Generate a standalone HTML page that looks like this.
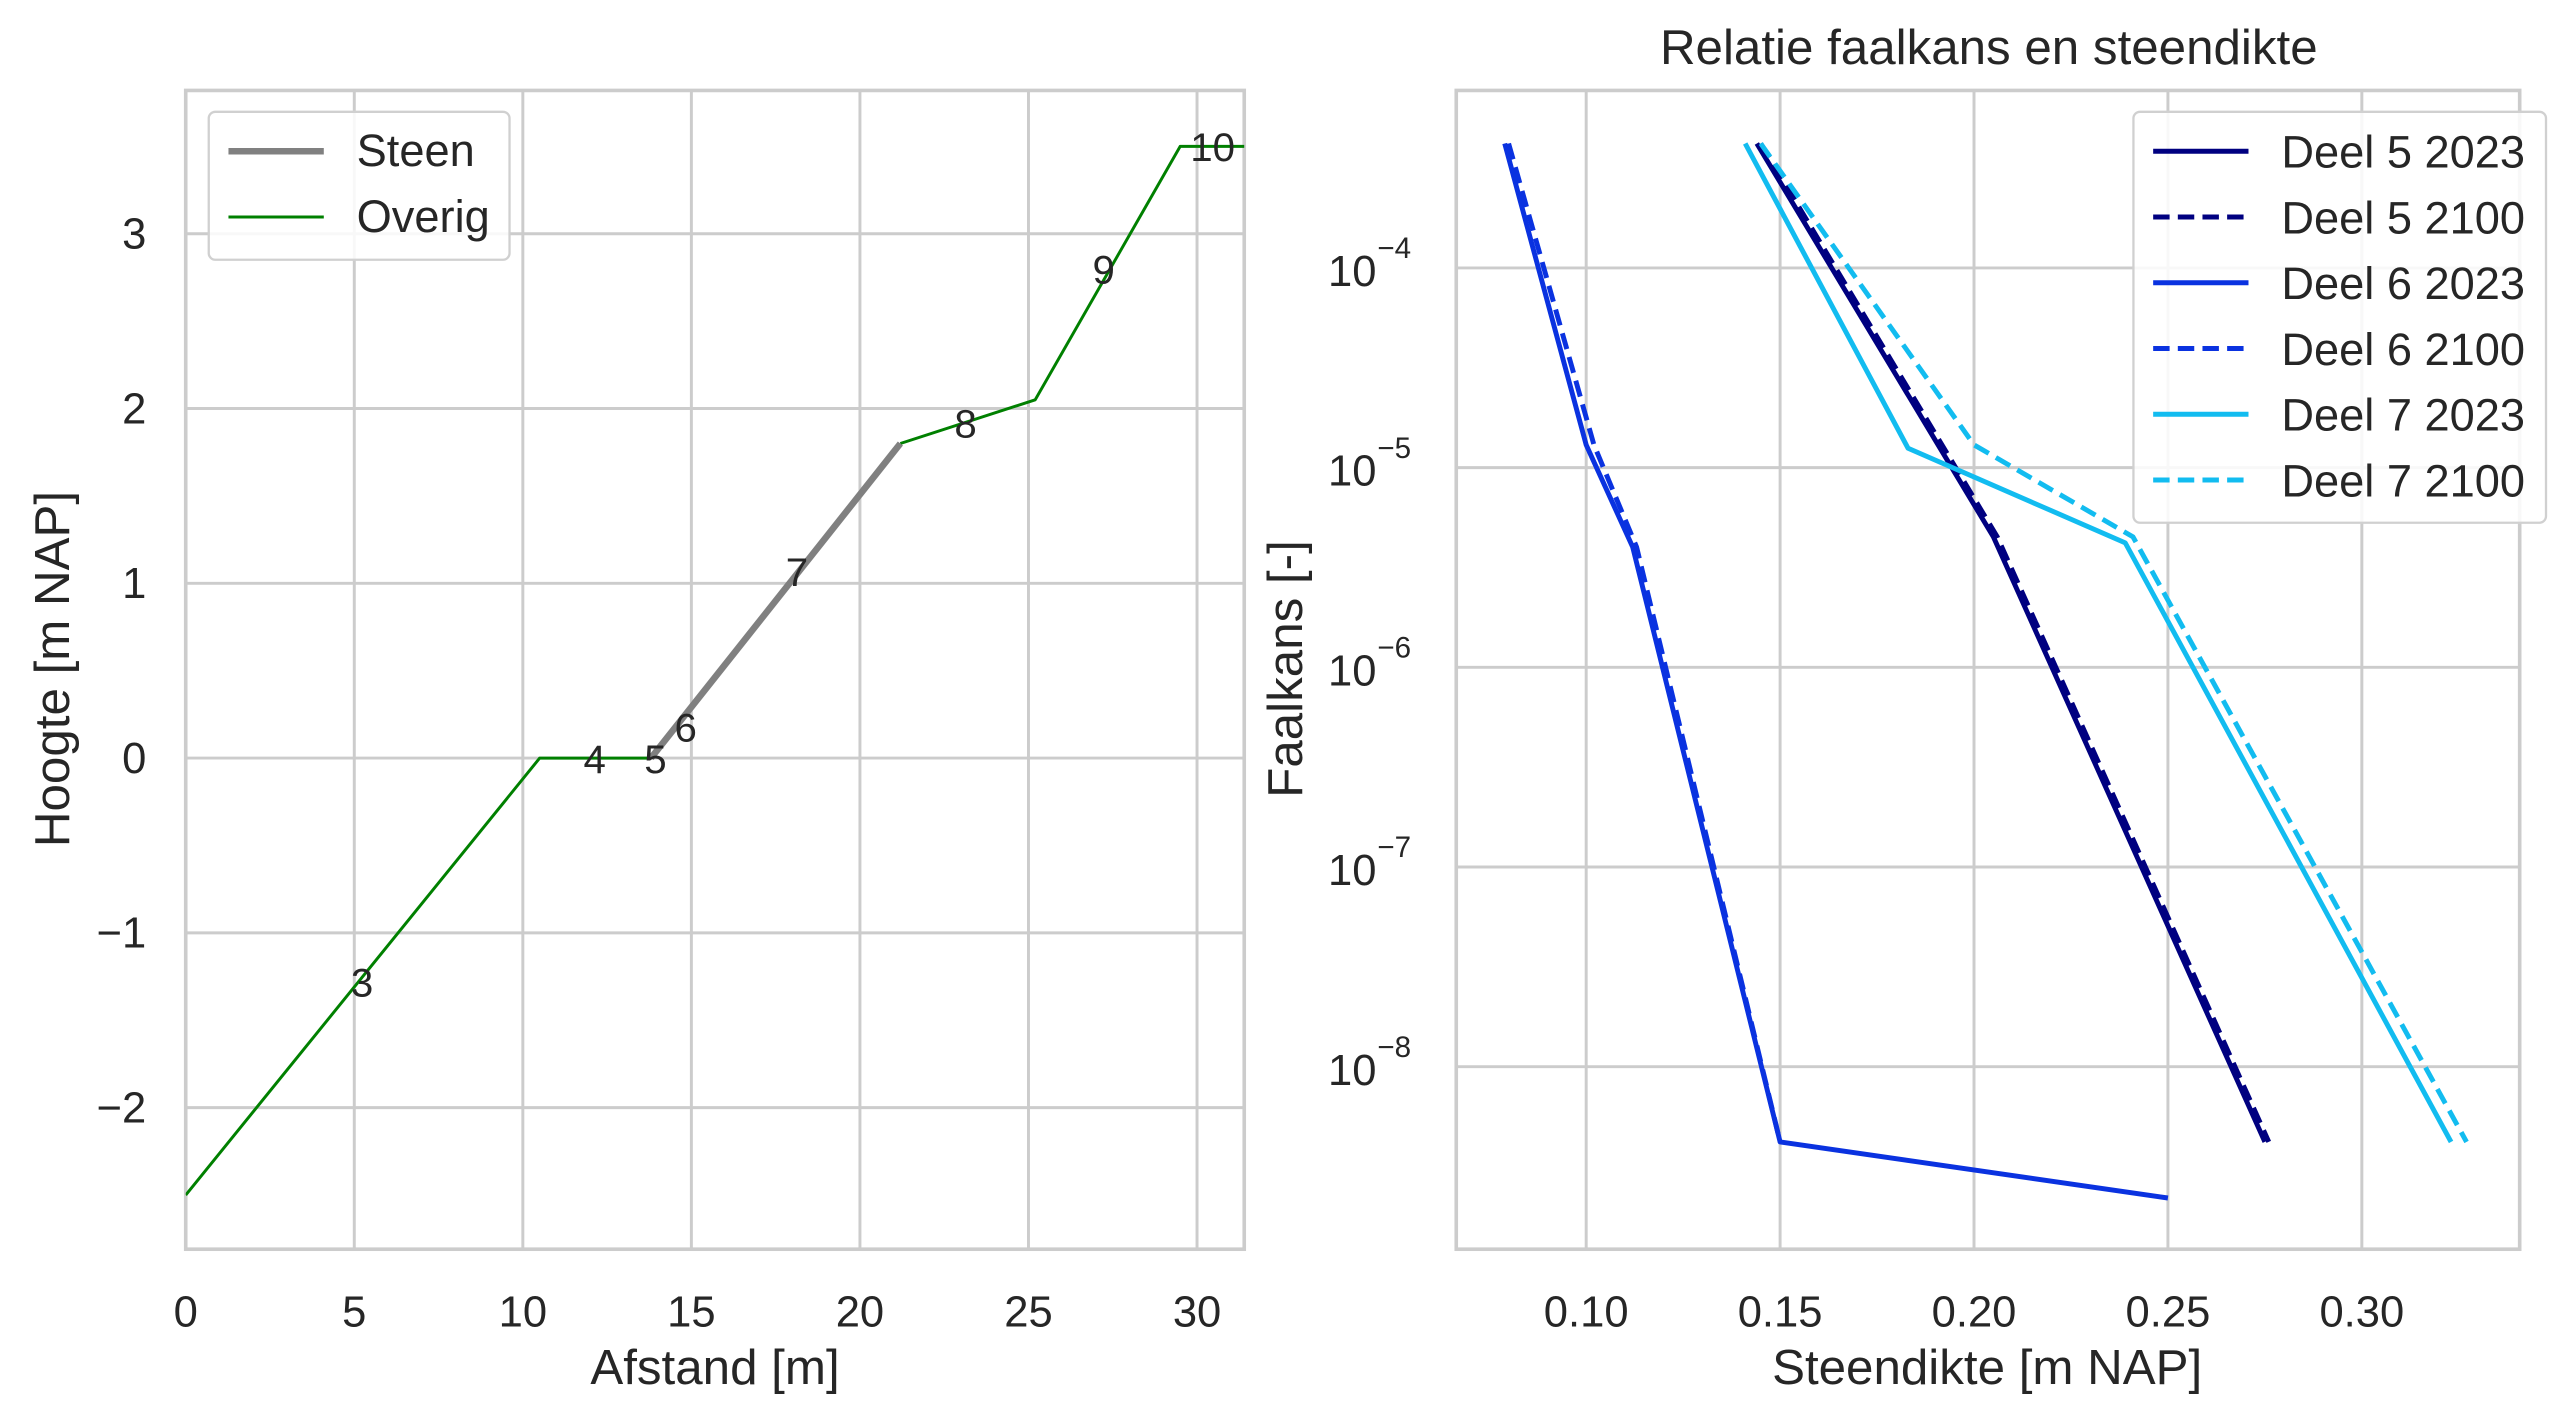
<!DOCTYPE html>
<html><head><meta charset="utf-8"><style>
html,body{margin:0;padding:0;background:#fff;}
svg{display:block;font-family:"Liberation Sans",Arial,sans-serif;}
</style></head><body>
<svg id="fig" width="2569" height="1421" viewBox="0 0 1563 864.5" xmlns="http://www.w3.org/2000/svg">
<rect width="1563" height="864.5" fill="#fff"/>
<g id="left"></g>
<g id="right"></g>
</svg>
<script>
// ---- Left chart data ----
const overigX = [0, 10.5, 13.7];
const overigY = [-2.5, 0, 0];
const overig2X = [21.2, 25.2, 29.5, 31.5];
const overig2Y = [1.8, 2.05, 3.5, 3.5];
const steenX = [13.8, 21.2];
const steenY = [0, 1.8];
const pointLabels = ["3","4","5","6","7","8","9","10"];
const pointX = [4.9, 11.8, 13.6, 14.5, 17.8, 22.8, 26.9, 29.8];
const pointY = [-1.28, 0.0, 0.0, 0.18, 1.07, 1.92, 2.8, 3.5];
const leftXTicks = [0,5,10,15,20,25,30];
const leftYTicks = [-2,-1,0,1,2,3];

// ---- Right chart data ----
const seriesNames = ["Deel 5 2023","Deel 5 2100","Deel 6 2023","Deel 6 2100","Deel 7 2023","Deel 7 2100"];
const d5a_x = [0.144, 0.205, 0.275];
const d5a_y = [4.2e-4, 4.5e-6, 4.2e-9];
const d5b_x = [0.145, 0.206, 0.276];
const d5b_y = [4.2e-4, 4.5e-6, 4.2e-9];
const d6a_x = [0.079, 0.100, 0.112, 0.150, 0.250];
const d6a_y = [4.2e-4, 1.3e-5, 4.0e-6, 4.2e-9, 2.2e-9];
const d6b_x = [0.080, 0.102, 0.113, 0.150];
const d6b_y = [4.2e-4, 1.3e-5, 4.0e-6, 4.2e-9];
const d7a_x = [0.141, 0.183, 0.239, 0.323];
const d7a_y = [4.2e-4, 1.25e-5, 4.2e-6, 4.2e-9];
const d7b_x = [0.145, 0.200, 0.241, 0.327];
const d7b_y = [4.2e-4, 1.3e-5, 4.5e-6, 4.2e-9];
const rightXTicks = [0.10,0.15,0.20,0.25,0.30];
const rightXTickLabels = ["0.10","0.15","0.20","0.25","0.30"];
const rightYExp = [-4,-5,-6,-7,-8];

const NS="http://www.w3.org/2000/svg";
function mk(parent,tag,attrs,text){const e=document.createElementNS(NS,tag);for(const k in attrs)e.setAttribute(k,attrs[k]);if(text!==undefined)e.textContent=text;parent.appendChild(e);return e;}
const GRID="#cccccc", TXT="#262626";
const TF=26.5, AF=30, LF=27.5;

// ===== Left =====
const L=document.getElementById('left');
const lx0=113,lx1=757,ly0=55,ly1=760;
const lxmin=0,lxmax=31.4,lymin=-2.81,lymax=3.82;
const lX=v=>lx0+(v-lxmin)/(lxmax-lxmin)*(lx1-lx0);
const lY=v=>ly1-(v-lymin)/(lymax-lymin)*(ly1-ly0);
leftXTicks.forEach(t=>{
  const g=mk(L,'line',{x1:lX(t),x2:lX(t),y1:ly0,y2:ly1,stroke:GRID,'stroke-width':1.8});
  
  
  const tl=mk(L,'text',{x:lX(t),y:ly1+47,'font-size':TF,fill:TXT,'text-anchor':'middle'},String(t));
  
  
});
leftYTicks.forEach(t=>{
  const g=mk(L,'line',{x1:lx0,x2:lx1,y1:lY(t),y2:lY(t),stroke:GRID,'stroke-width':1.8});
  
  
  const tl=mk(L,'text',{x:89,y:lY(t)+9,'font-size':TF,fill:TXT,'text-anchor':'end'},t<0?'\u2212'+(-t):String(t));
  
  
});
const lsp=mk(L,'rect',{x:lx0,y:ly0,width:lx1-lx0,height:ly1-ly0,fill:'none',stroke:GRID,'stroke-width':2.2});


function poly(par,xs,ys,fx,fy,attrs,name){
  const pts=xs.map((x,i)=>fx(x).toFixed(2)+','+fy(ys[i]).toFixed(2)).join(' ');
  const p=mk(par,'polyline',Object.assign({points:pts,fill:'none','stroke-linejoin':'round'},attrs));
  
  
  return p;
}
const clipL=mk(L,'clipPath',{id:'clipL'});mk(clipL,'rect',{x:lx0,y:ly0,width:lx1-lx0,height:ly1-ly0});
const LG=mk(L,'g',{'clip-path':'url(#clipL)'});
poly(LG,overigX,overigY,lX,lY,{stroke:'#008000','stroke-width':1.8},'overig-line-lower');
poly(LG,overig2X,overig2Y,lX,lY,{stroke:'#008000','stroke-width':1.8},'overig-line-upper');
poly(LG,steenX,steenY,lX,lY,{stroke:'#808080','stroke-width':4},'steen-line');
pointLabels.forEach((s,i)=>{
  const t=mk(L,'text',{x:lX(pointX[i]),y:lY(pointY[i])+9,'font-size':TF-2,fill:TXT},s);
  
  
});
mk(L,'text',{x:435,y:842,'font-size':AF,fill:TXT,'text-anchor':'middle',},'Afstand [m]');
mk(L,'text',{x:0,y:0,'font-size':AF,fill:TXT,'text-anchor':'middle',transform:'translate(42,407) rotate(-90)',},'Hoogte [m NAP]');
const lg=mk(L,'g',{});
mk(lg,'rect',{x:127,y:68,width:183,height:90,rx:4,fill:'#fff','fill-opacity':0.85,stroke:'#d0d0d0','stroke-width':1.4});
mk(lg,'line',{x1:139,x2:197,y1:92,y2:92,stroke:'#808080','stroke-width':4});
mk(lg,'text',{x:217,y:101,'font-size':LF,fill:TXT,},'Steen');
mk(lg,'line',{x1:139,x2:197,y1:132,y2:132,stroke:'#008000','stroke-width':1.8});
mk(lg,'text',{x:217,y:141,'font-size':LF,fill:TXT,},'Overig');

// ===== Right =====
const R=document.getElementById('right');
const rx0=886,rx1=1533,ry0=55,ry1=760;
const rxmin=0.0665,rxmax=0.3407,rlmin=-8.914,rlmax=-3.111;
const rX=v=>rx0+(v-rxmin)/(rxmax-rxmin)*(rx1-rx0);
const rY=v=>ry1-(Math.log10(v)-rlmin)/(rlmax-rlmin)*(ry1-ry0);
rightXTicks.forEach((t,i)=>{
  const g=mk(R,'line',{x1:rX(t),x2:rX(t),y1:ry0,y2:ry1,stroke:GRID,'stroke-width':1.8});
  
  
  const tl=mk(R,'text',{x:rX(t),y:ry1+47,'font-size':TF,fill:TXT,'text-anchor':'middle'},rightXTickLabels[i]);
  
  
});
rightYExp.forEach(e=>{
  const y=rY(Math.pow(10,e));
  const g=mk(R,'line',{x1:rx0,x2:rx1,y1:y,y2:y,stroke:GRID,'stroke-width':1.8});
  
  
  const tl=mk(R,'text',{x:808,y:y+11,'font-size':TF,fill:TXT},'10');
  
  
  const ex=mk(R,'text',{x:838,y:y-6,'font-size':18,fill:TXT},'\u2212'+(-e));
  
  
});
const rsp=mk(R,'rect',{x:rx0,y:ry0,width:rx1-rx0,height:ry1-ry0,fill:'none',stroke:GRID,'stroke-width':2.2});


const C5='#000080',C6='#0a32e0',C7='#12bcf0';
const specs=[[d5a_x,d5a_y,C5,false,'deel5-2023-line'],[d5b_x,d5b_y,C5,true,'deel5-2100-line'],
 [d6a_x,d6a_y,C6,false,'deel6-2023-line'],[d6b_x,d6b_y,C6,true,'deel6-2100-line'],
 [d7a_x,d7a_y,C7,false,'deel7-2023-line'],[d7b_x,d7b_y,C7,true,'deel7-2100-line']];
specs.forEach(s=>{
  const a={stroke:s[2],'stroke-width':3};
  if(s[3])a['stroke-dasharray']='10,5';
  poly(R,s[0],s[1],rX,rY,a,s[4]);
});
mk(R,'text',{x:1210,y:39,'font-size':AF,fill:TXT,'text-anchor':'middle',},'Relatie faalkans en steendikte');
mk(R,'text',{x:1209,y:842,'font-size':AF,fill:TXT,'text-anchor':'middle',},'Steendikte [m NAP]');
mk(R,'text',{x:0,y:0,'font-size':AF,fill:TXT,'text-anchor':'middle',transform:'translate(792,407) rotate(-90)',},'Faalkans [-]');
const rg=mk(R,'g',{});
mk(rg,'rect',{x:1298,y:68,width:251,height:250,rx:4,fill:'#fff','fill-opacity':0.85,stroke:'#d0d0d0','stroke-width':1.4});
specs.forEach((s,i)=>{
  const y=92+i*40;
  const ln=mk(rg,'line',{x1:1310,x2:1368,y1:y,y2:y,stroke:s[2],'stroke-width':3});
  if(s[3])ln.setAttribute('stroke-dasharray','10,5');
  const t=mk(rg,'text',{x:1388,y:y+10,'font-size':LF,fill:TXT},seriesNames[i]);
  
  
});
</script>
</body></html>
